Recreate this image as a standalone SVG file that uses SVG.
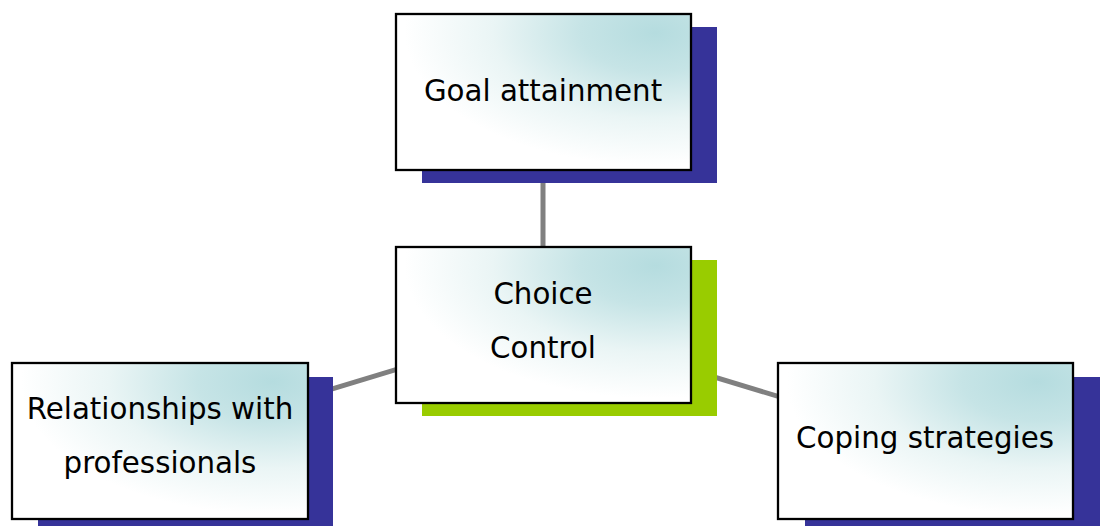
<svg xmlns="http://www.w3.org/2000/svg" width="1100" height="526" viewBox="0 0 1100 526">
<defs>
<radialGradient id="fill" cx="0.88" cy="0.12" r="0.85" fx="0.88" fy="0.12">
<stop offset="0" stop-color="#b5dcdf"/>
<stop offset="0.3" stop-color="#c6e4e6"/>
<stop offset="0.65" stop-color="#eaf5f5"/>
<stop offset="1" stop-color="#ffffff"/>
</radialGradient>
</defs>
<style>
.box{fill:url(#fill);stroke:#000;stroke-width:2.3}
.sh{fill:#363399}
.shg{fill:#99cc00}
.lbl{font-family:"DejaVu Sans","Verdana",sans-serif;font-size:29.3px;fill:#000;text-anchor:middle}
.con{stroke:#808080;stroke-width:5;fill:none}
</style>
<rect width="1100" height="526" fill="#fff"/>
<g id="connectors">
<line class="con" x1="543" y1="325" x2="543" y2="92"/>
<line class="con" x1="543" y1="325" x2="160" y2="441"/>
<line class="con" x1="543" y1="325" x2="925" y2="441"/>
</g>
<g id="goal">
<rect class="sh" x="422" y="27" width="295" height="156"/>
<rect class="box" x="396" y="14" width="295" height="156"/>
<text class="lbl" x="543" y="101">Goal attainment</text>
</g>
<g id="choice">
<rect class="shg" x="422" y="260" width="295" height="156"/>
<rect class="box" x="396" y="247" width="295" height="156"/>
<text class="lbl" x="543" y="304">Choice</text>
<text class="lbl" x="543" y="358">Control</text>
</g>
<g id="relationships">
<rect class="sh" x="38" y="377" width="295" height="156"/>
<rect class="box" x="12" y="363" width="296" height="156"/>
<text class="lbl" x="160" y="419">Relationships with</text>
<text class="lbl" x="160" y="473">professionals</text>
</g>
<g id="coping">
<rect class="sh" x="805" y="377" width="295" height="156"/>
<rect class="box" x="778" y="363" width="295" height="156"/>
<text class="lbl" x="925" y="448">Coping strategies</text>
</g>
</svg>
